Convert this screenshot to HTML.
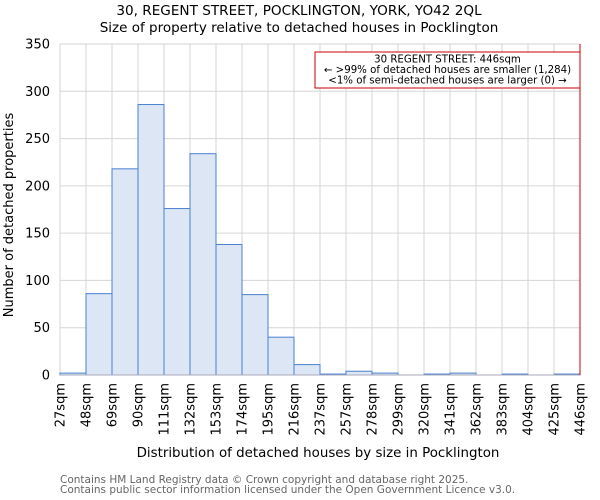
<!DOCTYPE html>
<html><head><meta charset="utf-8"><style>
body{margin:0;background:#fff}
svg{display:block;font-family:"DejaVu Sans","Liberation Sans",sans-serif}
</style></head><body>
<svg id="c" width="600" height="500" viewBox="0 0 600 500">
<text x="299" y="15" text-anchor="middle" font-size="13.6" fill="#000">30, REGENT STREET, POCKLINGTON, YORK, YO42 2QL</text>
<text x="299" y="32" text-anchor="middle" font-size="13.5" fill="#000">Size of property relative to detached houses in Pocklington</text>
<g id="grid"></g><g id="bars"></g><g id="axes"></g>
<text x="318" y="457" text-anchor="middle" font-size="13.4" fill="#000">Distribution of detached houses by size in Pocklington</text>
<text transform="translate(13,215) rotate(-90)" text-anchor="middle" font-size="13" fill="#000">Number of detached properties</text>
<text x="60" y="483" font-size="10.5" fill="#666">Contains HM Land Registry data © Crown copyright and database right 2025.</text>
<text x="60" y="493" font-size="10.5" fill="#666">Contains public sector information licensed under the Open Government Licence v3.0.</text>
</svg>
<script>
const categories=["27sqm","48sqm","69sqm","90sqm","111sqm","132sqm","153sqm","174sqm","195sqm","216sqm","237sqm","257sqm","278sqm","299sqm","320sqm","341sqm","362sqm","383sqm","404sqm","425sqm","446sqm"];
const counts=[2,86,218,286,176,234,138,85,40,11,1,4,2,0,1,2,0,1,0,1];
const yTicks=[0,50,100,150,200,250,300,350];
const markerIndex=20;
const annotationLines=["30 REGENT STREET: 446sqm","← >99% of detached houses are smaller (1,284)","<1% of semi-detached houses are larger (0) →"];
const NS="http://www.w3.org/2000/svg";
const X0=60,X1=580,Y0=375,Y1=44,YMAX=350;
const bw=(X1-X0)/(categories.length-1);
function xs(i){return X0+i*bw}
function ys(v){return Y0-(v/YMAX)*(Y0-Y1)}
function mk(tag,attrs,parent){const e=document.createElementNS(NS,tag);for(const k in attrs)e.setAttribute(k,attrs[k]);parent.appendChild(e);return e}
const grid=document.getElementById('grid'),bars=document.getElementById('bars'),axes=document.getElementById('axes');
yTicks.forEach(t=>{
 const l=mk('line',{x1:X0,x2:X1,y1:ys(t),y2:ys(t),stroke:'#d6d6d6','stroke-width':1},grid);
 
 
 const tx=mk('text',{x:X0-10,y:ys(t)+4.5,'text-anchor':'end','font-size':13,fill:'#000'},axes);
 tx.textContent=t;
 
 
});
categories.forEach((c,i)=>{
 const l=mk('line',{x1:xs(i),x2:xs(i),y1:Y1,y2:Y0,stroke:'#d6d6d6','stroke-width':1},grid);
 
 
 const tx=mk('text',{transform:`translate(${xs(i)+4.5},383) rotate(-90)`,'text-anchor':'end','font-size':13,fill:'#000'},axes);
 tx.textContent=c;
 
 
});
counts.forEach((v,i)=>{
 const r=mk('rect',{x:xs(i),y:ys(v),width:bw,height:Y0-ys(v),fill:'#dce6f4',stroke:'#4a80d0','stroke-width':1},bars);
 
 
});
const ax=mk('line',{x1:X0,x2:X1,y1:Y0,y2:Y0,stroke:'#aab',"stroke-width":1},axes);


const mx=xs(markerIndex);
const ml=mk('line',{x1:mx,x2:mx,y1:Y1,y2:Y0,stroke:'#c00','stroke-width':1},axes);


const box=mk('rect',{x:315,y:52,width:mx-315,height:36,fill:'#fff',stroke:'#c00','stroke-width':1},axes);


annotationLines.forEach((s,k)=>{
 const t=mk('text',{x:(315+mx)/2,y:62.5+k*10.5,'text-anchor':'middle','font-size':10.2,fill:'#000'},axes);
 t.textContent=s;
 
 
});
</script>
</body></html>
